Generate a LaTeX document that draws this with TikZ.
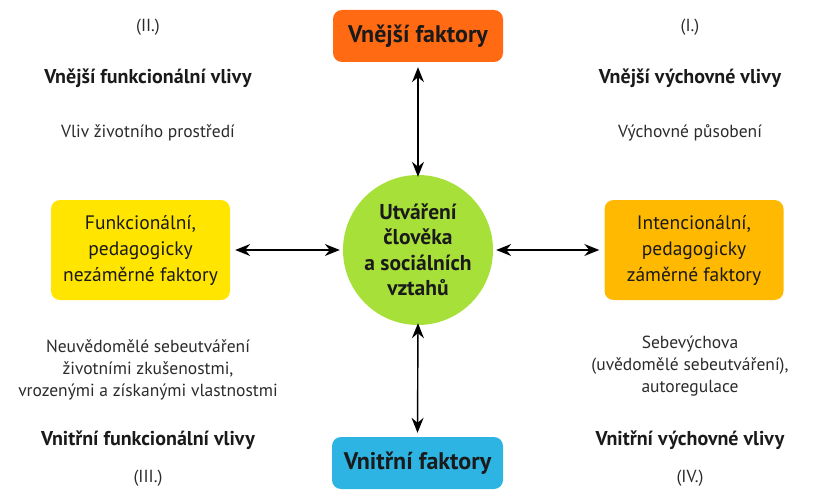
\documentclass[tikz,border=0pt]{standalone}
\usepackage{fontspec}
\setmainfont{PT Sans}
\usetikzlibrary{arrows.meta}
\definecolor{corange}{HTML}{FF6A13}
\definecolor{cblue}{HTML}{2EB4E2}
\definecolor{cyellow}{HTML}{FFE500}
\definecolor{camber}{HTML}{FFB900}
\definecolor{cgreen}{HTML}{A8E03A}
\definecolor{ctext}{HTML}{1A1A1A}
\definecolor{cgray}{HTML}{2B2B2B}
\begin{document}
\begin{tikzpicture}[x=1pt,y=-1pt,
  bigbox/.style={rounded corners=9pt, minimum width=170pt, minimum height=52pt, inner sep=0pt, font=\fontsize{24}{26}\selectfont\bfseries, text=ctext},
  sidebox/.style={rounded corners=9pt, minimum width=179pt, minimum height=100pt, inner sep=0pt, align=center, font=\fontsize{19.5}{26}\selectfont, text=ctext},
  hub/.style={circle, minimum size=150pt, inner sep=0pt, align=center, fill=cgreen, font=\fontsize{21.5}{25.5}\selectfont\bfseries, text=ctext},
  plain/.style={align=center, font=\fontsize{17.5}{22}\selectfont, text=cgray},
  head/.style={align=center, font=\fontsize{20}{22}\selectfont\bfseries, text=ctext},
  link/.style={{Stealth[length=15pt,width=12pt,inset=5pt]}-{Stealth[length=15pt,width=12pt,inset=5pt]}, line width=1.4pt, black}]
\useasboundingbox (0,0) rectangle (815,503);
\node[bigbox, fill=corange] (top) at (418,36) {Vnější faktory};
\node[bigbox, fill=cblue, minimum width=171pt] (bot) at (417.5,463) {Vnitřní faktory};
\node[sidebox, fill=cyellow] (left) at (140.5,250) {Funkcionální,\\pedagogicky\\nezáměrné faktory};
\node[sidebox, fill=camber] (right) at (694,250) {Intencionální,\\pedagogicky\\záměrné faktory};
\node[hub] (hub) at (418,250) {Utváření\\člověka\\a sociálních\\vztahů};
\draw[link] ([yshift=-5pt]top.south) -- ([yshift=-2pt]hub.north);
\draw[link] ([yshift=4pt]bot.north) -- ([yshift=2pt]hub.south);
\draw[link] ([xshift=5pt]left.east) -- ([xshift=-3pt]hub.west);
\draw[link] ([xshift=-5pt]right.west) -- ([xshift=3pt]hub.east);
\node[plain] (n2) at (148,27) {(II.)};
\node[plain] (n1) at (690,27) {(I.)};
\node[head] (h2) at (148,78) {Vnější funkcionální vlivy};
\node[head] (h1) at (690,78) {Vnější výchovné vlivy};
\node[plain] (t2) at (148,133) {Vliv životního prostředí};
\node[plain] (t1) at (690,133) {Výchovné působení};
\node[plain] (t3) at (148,370) {Neuvědomělé sebeutváření\\životními zkušenostmi,\\vrozenými a získanými vlastnostmi};
\node[plain] (t4) at (690,366) {Sebevýchova\\(uvědomělé sebeutváření),\\autoregulace};
\node[head] (h3) at (148,440) {Vnitřní funkcionální vlivy};
\node[head] (h4) at (690,440) {Vnitřní výchovné vlivy};
\node[plain] (n3) at (148,478) {(III.)};
\node[plain] (n4) at (690,478) {(IV.)};
\end{tikzpicture}
\end{document}
